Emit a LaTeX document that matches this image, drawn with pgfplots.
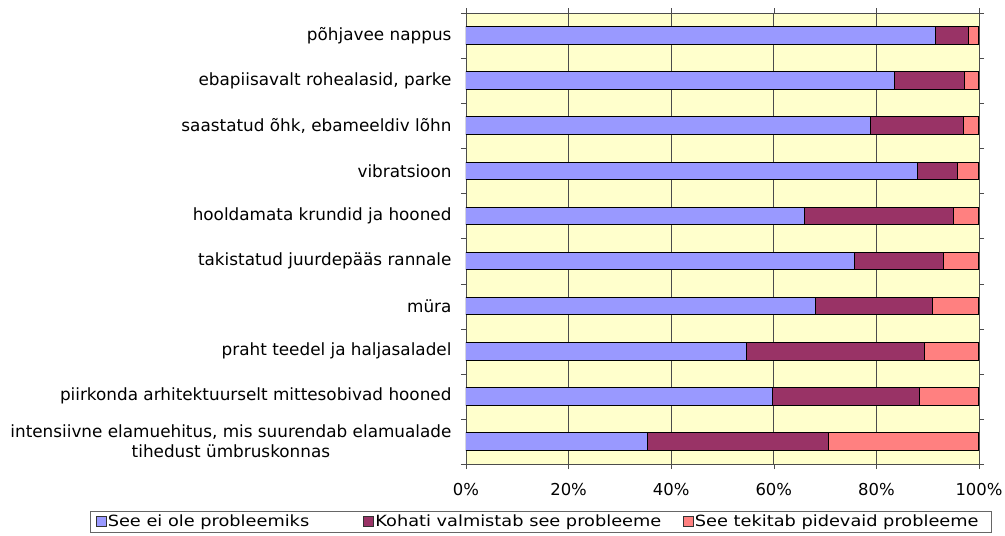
\documentclass[border=0pt]{standalone}
\usepackage{pgfplots}
\pgfplotsset{compat=1.18}
\usepackage{fontspec}
\setmainfont{DejaVu Sans}
\newfontfamily\legfont[FakeStretch=1.15]{DejaVu Sans}
\definecolor{c1}{HTML}{9999FF}
\definecolor{c2}{HTML}{993366}
\definecolor{c3}{HTML}{FF8080}
\definecolor{bg}{HTML}{FFFFCC}

\begin{document}
\begin{tikzpicture}
\begin{axis}[
    name=ax,
    scale only axis,
    width=513bp, height=451bp,
    xbar stacked,
    bar width=17.6bp,
    xmin=0, xmax=100,
    ymin=-0.5, ymax=9.5,
    axis background/.style={fill=bg},
    axis line style={black!70},
    xtick={0,20,...,100},
    xticklabel={\pgfmathprintnumber{\tick}\%},
    ytick={0,...,9},
    yticklabels={
      {intensiivne elamuehitus, mis suurendab elamualade\\tihedust ümbruskonnas},
      piirkonda arhitektuurselt mittesobivad hooned,
      praht teedel ja haljasaladel,
      müra,
      takistatud juurdepääs rannale,
      hooldamata krundid ja hooned,
      vibratsioon,
      {saastatud õhk, ebameeldiv lõhn},
      {ebapiisavalt rohealasid, parke},
      põhjavee nappus},
    minor ytick={-0.5,0.5,...,9.5},
    tick align=outside,
    major tick length=5bp,
    minor tick length=5bp,
    major y tick style={draw=none},
    tick style={black!70},
    xmajorgrids,
    major x grid style={black!70, line width=0.8bp},
    yticklabel style={align=center, font=\fontsize{16.9}{20.5}\selectfont, xshift=-6bp},
    xticklabel style={font=\fontsize{16.5}{20}\selectfont, yshift=-11bp},
    /pgf/number format/assume math mode=true,
    legend columns=3,
    legend style={at={(-0.733,-0.104)}, anchor=north west,
      draw=black!60, font=\legfont\fontsize{15.5}{18}\selectfont,
      inner xsep=5.5bp, inner ysep=2.5bp, nodes={inner sep=1.5bp}},
    legend image code/.code={\draw[#1,draw=black!80,line width=0.6bp] (0bp,-5bp) rectangle (10bp,5bp);},
    every axis plot/.append style={draw=black, line width=1bp},
  ]
  \addplot[fill=c1] coordinates {
    (35.4,0) (59.8,1) (54.6,2) (68.2,3) (75.7,4)
    (65.9,5) (88.1,6) (78.8,7) (83.5,8) (91.5,9)};
  \addplot[fill=c2] coordinates {
    (35.2,0) (28.6,1) (34.7,2) (22.8,3) (17.3,4)
    (29.2,5) (7.7,6) (18.2,7) (13.6,8) (6.4,9)};
  \addplot[fill=c3] coordinates {
    (29.4,0) (11.6,1) (10.7,2) (9.0,3) (7.0,4)
    (4.9,5) (4.2,6) (3.0,7) (2.9,8) (2.1,9)};
  \addlegendentry{\makebox[254bp][l]{See ei ole probleemiks}}
  \addlegendentry{\makebox[306bp][l]{Kohati valmistab see probleeme}}
  \addlegendentry{\makebox[289bp][l]{See tekitab pidevaid probleeme}}
\end{axis}
\pgfresetboundingbox
\useasboundingbox (ax.south west) ++(-466bp,-72bp) rectangle ++(1005bp,536bp);
\end{tikzpicture}
\end{document}
